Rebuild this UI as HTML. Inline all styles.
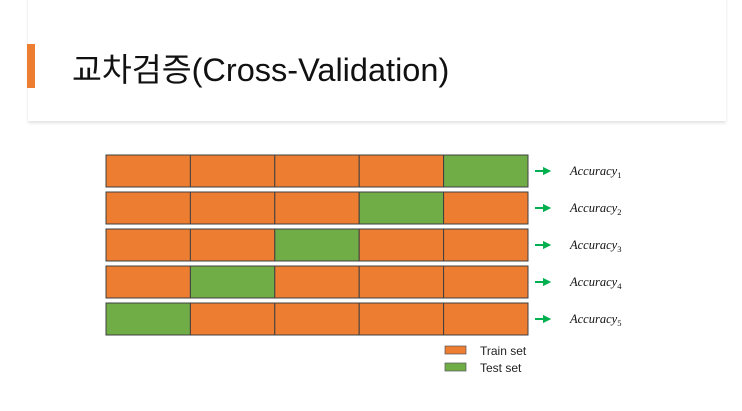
<!DOCTYPE html>
<html><head><meta charset="utf-8"><style>
body{margin:0;width:742px;height:411px;background:#fff;overflow:hidden;font-family:"Liberation Sans","Noto Sans CJK KR",sans-serif}
#card{position:absolute;left:28px;top:-5px;width:698px;height:126px;background:#fff;box-shadow:0 2px 3px rgba(0,0,0,.12)}
#bar{position:absolute;left:27px;top:44px;width:8px;height:44px;background:#ed7d31}
#title{position:absolute;left:72px;top:44px;font-size:32.5px;color:#111;letter-spacing:0;white-space:nowrap}
</style></head><body>
<div id="card"></div>
<div id="bar"></div>
<div id="title">교차검증(Cross-Validation)</div>
<svg id="chart" width="742" height="411" style="position:absolute;left:0;top:0"></svg>
<script>
const folds=[1,2,3,4,5];
const testIndex=[4,3,2,1,0];
const legendLabels=["Train set","Test set"];
const NS="http://www.w3.org/2000/svg";
const svg=document.getElementById('chart');
const x0=106,cellW=84.4,y0=155,rowH=32,gap=37;
const xs=i=>x0+i*cellW, ys=r=>y0+r*gap;
function mk(t,a){const e=document.createElementNS(NS,t);for(const k in a)e.setAttribute(k,a[k]);svg.appendChild(e);return e;}
folds.forEach((f,r)=>{
 for(let i=0;i<5;i++){
  const c=mk('rect',{x:xs(i),y:ys(r),width:cellW,height:rowH,fill:i===testIndex[r]?'#70ad47':'#ed7d31',stroke:'#404040','stroke-width':1});
  
  
 }
 const ay=ys(r)+rowH/2;
 const a=mk('path',{d:`M535 ${ay}H545M544 ${ay-2.5}L549 ${ay}L544 ${ay+2.5}Z`,stroke:'#00b050','stroke-width':2,fill:'#00b050'});
 
 
 const t=mk('text',{x:570,y:ay+4,'font-family':'Liberation Serif, serif','font-style':'italic','font-size':12.5,fill:'#111'});
 
 
 t.textContent='Accuracy';
 const s=document.createElementNS(NS,'tspan');s.setAttribute('dy',3);s.setAttribute('font-size',8.5);s.setAttribute('font-style','normal');s.textContent=f;t.appendChild(s);
});
legendLabels.forEach((l,i)=>{
 const y=346+i*17;
 const r=mk('rect',{x:445,y:y,width:21,height:8,fill:i?'#70ad47':'#ed7d31',stroke:'#555','stroke-width':0.7});
 
 
 const t=mk('text',{x:480,y:y+9,'font-size':12,fill:'#222'});
 
 
 t.textContent=l;
});
</script>
</body></html>
